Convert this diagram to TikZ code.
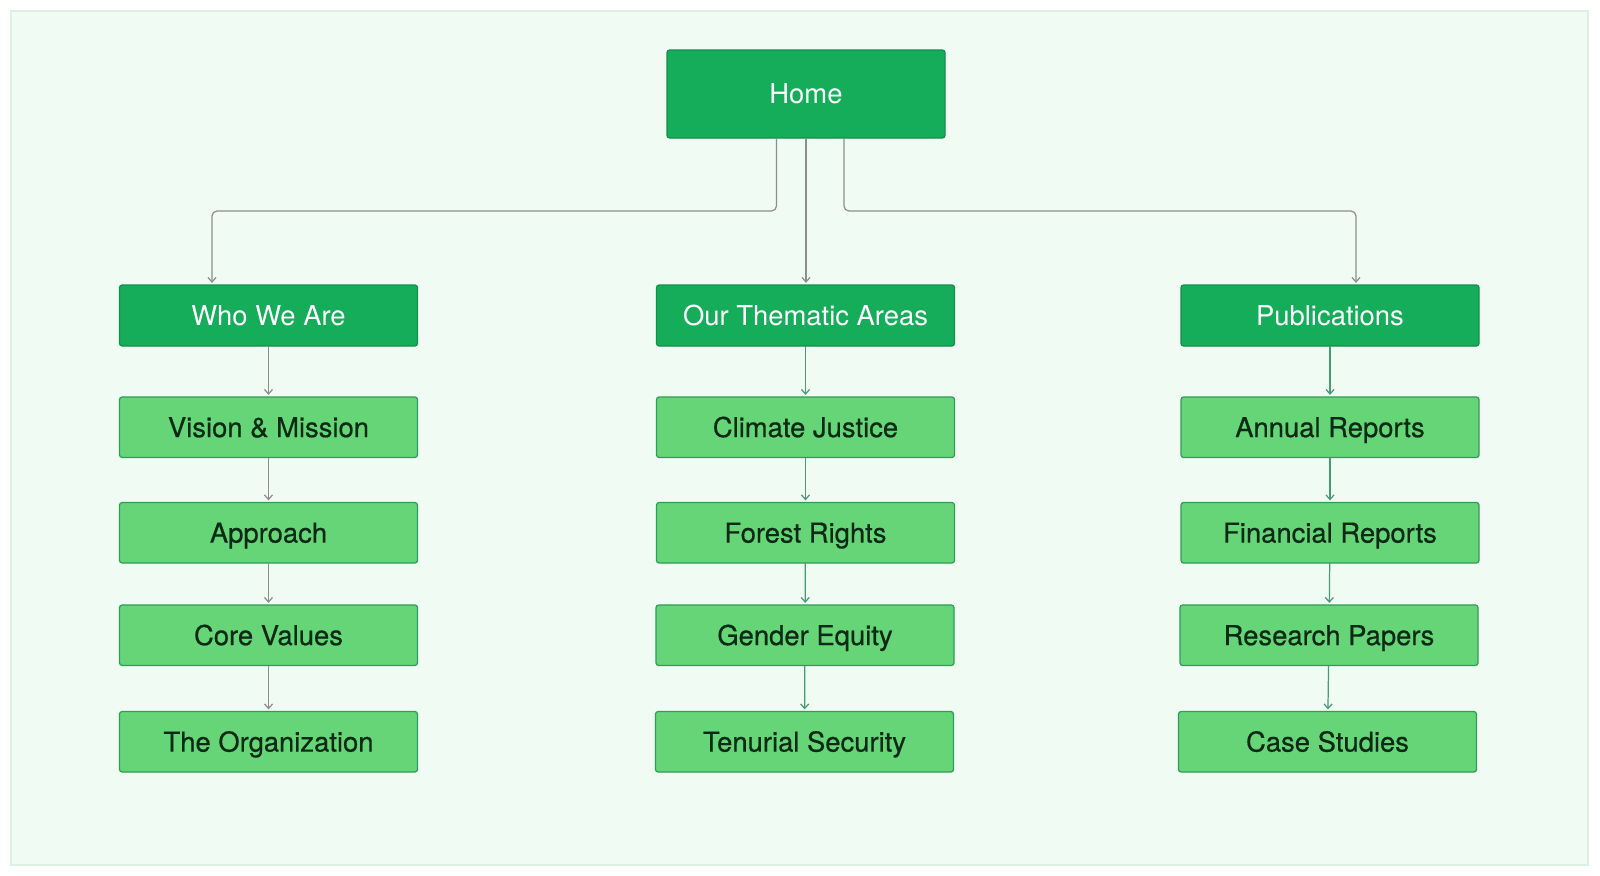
\documentclass[tikz,border=0pt]{standalone}
\usepackage{fontspec}
\setmainfont{TeX Gyre Heros}
\newfontfamily\labelfont{TeX Gyre Heros}[FakeBold=0.6]
\usepackage{tikz}
\usetikzlibrary{arrows.meta, positioning}
\usepackage{xcolor}
\definecolor{bgfill}{HTML}{F0FBF4}
\definecolor{bgline}{HTML}{DCF0E3}
\definecolor{darkgreen}{HTML}{16AD5A}
\definecolor{darkline}{HTML}{12914A}
\definecolor{lightgreen}{HTML}{66D577}
\definecolor{lightline}{HTML}{2F9D58}
\definecolor{inkgreen}{HTML}{0C2A15}
\definecolor{linkgray}{HTML}{8E8E8E}
\definecolor{linkgreen}{HTML}{4A9A73}
\tikzset{
  hub/.style={
    rectangle, rounded corners=1.5pt, draw=darkline, line width=0.7pt,
    fill=darkgreen, minimum width=5.56cm, minimum height=1.76cm,
    inner sep=0pt, outer sep=0pt, text height=11.2pt, text depth=0pt,
    text=white, font=\fontsize{15.6}{18}\selectfont
  },
  section/.style={
    hub, minimum width=5.96cm, minimum height=1.22cm
  },
  pagebox/.style={
    rectangle, rounded corners=1.5pt, draw=lightline, line width=0.7pt,
    fill=lightgreen, minimum width=5.96cm, minimum height=1.21cm,
    inner sep=0pt, outer sep=0pt, text height=11.2pt, text depth=0pt,
    text=inkgreen, font=\labelfont\fontsize{15.6}{18}\selectfont
  },
  arrow/.style={-{Straight Barb[length=2.6pt, width=4.6pt]}, line width=0.7pt,
    draw=linkgray, shorten >=1.2pt},
  trunk/.style={arrow, rounded corners=0.1cm}
}
\begin{document}
\begin{tikzpicture}
  \useasboundingbox (0,0) rectangle (32,-17.52);
  \draw[fill=bgfill, draw=bgline, line width=0.6pt] (0.22,-0.22) rectangle (31.76,-17.3);

  % top level
  \node[hub] (home) at (16.12,-1.88) {Home};

  % sections
  \node[section] (who) at (5.37,-6.31) {Who We Are};
  \node[section] (themes) at (16.11,-6.31) {Our Thematic Areas};
  \node[section] (pubs) at (26.6,-6.31) {Publications};

  % pages under Who We Are
  \node[pagebox, below=1.02cm of who] (vision) {Vision \& Mission};
  \node[pagebox, below=0.9cm of vision] (approach) {Approach};
  \node[pagebox, below=0.84cm of approach] (values) {Core Values};
  \node[pagebox, below=0.92cm of values] (org) {The Organization};

  % pages under Our Thematic Areas
  \node[pagebox, below=1.02cm of themes] (climate) {Climate Justice};
  \node[pagebox, below=0.9cm of climate] (forest) {Forest Rights};
  \node[pagebox, below=0.84cm of forest, xshift=-0.01cm] (gender) {Gender Equity};
  \node[pagebox, below=0.92cm of gender, xshift=-0.01cm] (tenure) {Tenurial Security};

  % pages under Publications
  \node[pagebox, below=1.02cm of pubs] (annual) {Annual Reports};
  \node[pagebox, below=0.9cm of annual] (finance) {Financial Reports};
  \node[pagebox, below=0.84cm of finance, xshift=-0.02cm] (research) {Research Papers};
  \node[pagebox, below=0.92cm of research, xshift=-0.03cm] (cases) {Case Studies};

  % links from Home
  \draw[trunk] ([xshift=-0.59cm]home.south) -- ++(0,-1.46) -| ([xshift=-1.13cm]who.north);
  \draw[arrow] (home.south) -- (home.south |- themes.north);
  \draw[trunk] ([xshift=0.76cm]home.south) -- ++(0,-1.46) -| ([xshift=0.52cm]pubs.north);

  % links down each column
  \foreach \a/\b in {who/vision, vision/approach, approach/values, values/org}
    \draw[arrow] (\a) -- (\b);
  \foreach \a/\b in {themes/climate, climate/forest, forest/gender, gender/tenure,
                     pubs/annual, annual/finance, finance/research, research/cases}
    \draw[arrow, draw=linkgreen] (\a) -- (\b);
\end{tikzpicture}
\end{document}
